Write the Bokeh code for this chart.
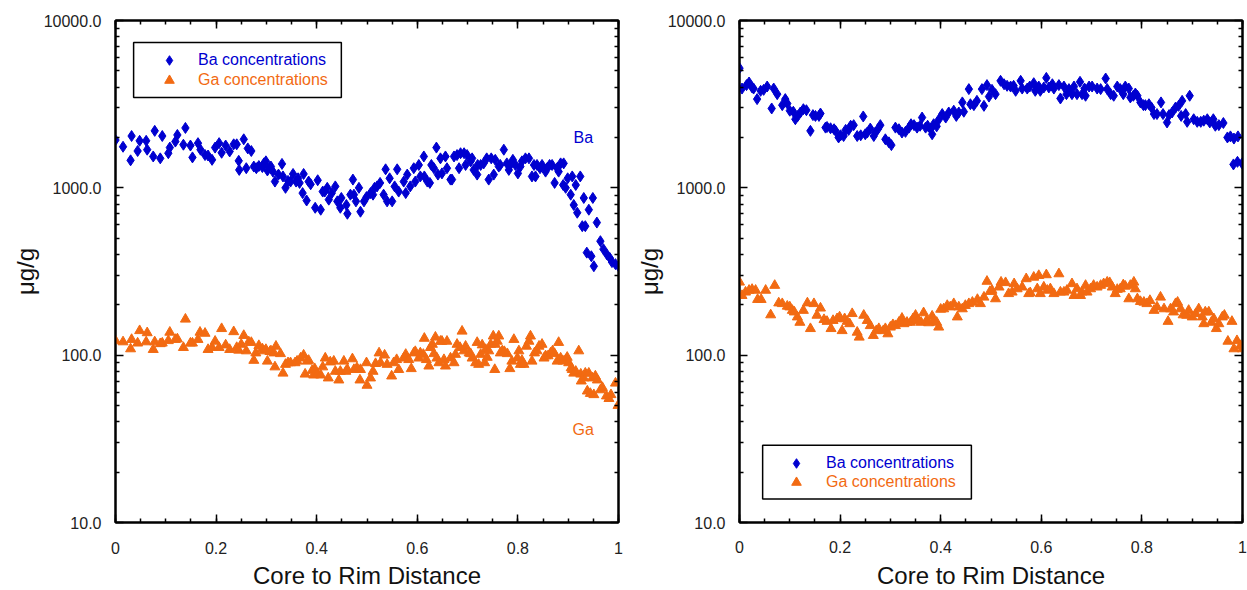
from bokeh.plotting import figure
from bokeh.layouts import row
from bokeh.models import (FixedTicker, LinearAxis, LogAxis, Range1d, Legend,
                          LegendItem, Label, BoxAnnotation, CustomJSTickFormatter)
from bokeh.embed import file_html
from bokeh.resources import INLINE

FONT = "Liberation Sans"
BA_COLOR = "#0000D0"
GA_COLOR = "#F26A12"

# ---------------- axis ticks ----------------
x_ticks = [0, 0.2, 0.4, 0.6, 0.8, 1.0]
x_tick_labels = ["0", "0.2", "0.4", "0.6", "0.8", "1"]
y_ticks = [10, 100, 1000, 10000]
y_tick_labels = ["10.0", "100.0", "1000.0", "10000.0"]
x_label = "Core to Rim Distance"
y_label = "μg/g"
legend_labels = ["Ba concentrations", "Ga concentrations"]

# ---------------- left panel data ----------------
left_ba_x = [0, 0.015, 0.030, 0.032, 0.044, 0.048, 0.061, 0.063, 0.075, 0.078,
             0.089, 0.093, 0.105, 0.108, 0.119, 0.123, 0.135, 0.139, 0.149, 0.153,
             0.164, 0.169, 0.178, 0.184, 0.192, 0.198, 0.206, 0.211, 0.219, 0.227,
             0.235, 0.241, 0.245, 0.246, 0.255, 0.260, 0.263, 0.270, 0.275, 0.280,
             0.285, 0.292, 0.295, 0.299, 0.302, 0.307, 0.309, 0.313, 0.317, 0.324,
             0.331, 0.333, 0.338, 0.343, 0.348, 0.353, 0.359, 0.363, 0.366, 0.372,
             0.374, 0.380, 0.384, 0.388, 0.397, 0.402, 0.408, 0.412, 0.416, 0.421,
             0.424, 0.430, 0.437, 0.441, 0.447, 0.449, 0.459, 0.461, 0.467, 0.472,
             0.474, 0.478, 0.484, 0.487, 0.494, 0.499, 0.507, 0.512, 0.515, 0.520,
             0.526, 0.533, 0.537, 0.540, 0.545, 0.550, 0.555, 0.560, 0.563,
             0.573, 0.577, 0.580, 0.586, 0.593, 0.596, 0.603, 0.606, 0.613, 0.614,
             0.620, 0.625, 0.628, 0.633, 0.638, 0.641, 0.646, 0.649, 0.656, 0.659,
             0.666, 0.669, 0.673, 0.679, 0.683, 0.686, 0.693, 0.696, 0.699, 0.706,
             0.709, 0.712, 0.719, 0.720, 0.726, 0.732, 0.738, 0.742, 0.747, 0.752,
             0.755, 0.762, 0.765, 0.772, 0.778, 0.782, 0.785, 0.790, 0.795, 0.800,
             0.805, 0.808, 0.815, 0.822, 0.828, 0.832, 0.835, 0.838, 0.844, 0.848,
             0.855, 0.858, 0.863, 0.868, 0.873, 0.878, 0.881, 0.885, 0.891, 0.890,
             0.895, 0.899, 0.905, 0.908, 0.911, 0.915, 0.918, 0.924, 0.928, 0.931,
             0.934, 0.937, 0.941, 0.946, 0.949, 0.951, 0.957, 0.964, 0.970, 0.977,
             0.983, 0.987, 0.994, 1.0]
left_ba_y = [1930, 1760, 1460, 2040, 1660, 1910, 1910, 1690, 1540, 2190,
             1500, 2040, 1610, 1740, 1890, 2070, 1810, 2280, 1790, 1520,
             1850, 1690, 1570, 1560, 1470, 1740, 1850, 1620, 1790, 1650,
             1820, 1820, 1450, 1280, 1950, 1310, 1720, 1660, 1340, 1310,
             1350, 1330, 1400, 1440, 1270, 1330, 1340, 1250, 1090, 1200,
             1390, 1170, 1000, 1100, 1090, 1210, 1090, 1140, 1070, 930,
             1210, 840, 1090, 1050, 760, 1110, 740, 950, 950, 1000,
             850, 930, 1020, 830, 760, 870, 790, 700, 910, 1120,
             910, 830, 1000, 720, 830, 880, 930, 910, 1000, 1020,
             1070, 910, 1290, 830, 1140, 830, 1020, 1290, 950,
             1090, 930, 1200, 1020, 1310, 1090, 1370, 1170, 1540, 1170,
             1090, 1070, 1370, 1310, 1740, 1200, 1500, 1220, 1540, 1310,
             1120, 1120, 1540, 1570, 1310, 1610, 1610, 1370, 1570, 1440,
             1500, 1280, 1200, 1370, 1370, 1400, 1500, 1120, 1500, 1200,
             1470, 1340, 1370, 1690, 1400, 1280, 1370, 1470, 1370, 1220,
             1340, 1440, 1500, 1500, 1170, 1370, 1170, 1370, 1310, 1370,
             1250, 1310, 1370, 1370, 1070, 1310, 1250, 1400, 1400, 1040,
             1000, 1140, 910, 1170, 790, 1040, 710, 1170, 590, 870,
             590, 410, 740, 390, 870, 340, 620, 480, 430, 400,
             380, 360, 350, 340]

left_ga_x = [0, 0.015, 0.030, 0.032, 0.044, 0.048, 0.061, 0.063, 0.075, 0.078,
             0.089, 0.093, 0.105, 0.108, 0.119, 0.123, 0.135, 0.139, 0.149, 0.153,
             0.164, 0.168, 0.178, 0.184, 0.192, 0.198, 0.206, 0.211, 0.219, 0.227,
             0.235, 0.241, 0.245, 0.250, 0.255, 0.260, 0.265, 0.270, 0.275, 0.279,
             0.285, 0.292, 0.295, 0.299, 0.302, 0.307, 0.309, 0.315, 0.317, 0.319,
             0.328, 0.333, 0.338, 0.343, 0.348, 0.357, 0.361, 0.368, 0.374, 0.377,
             0.381, 0.384, 0.391, 0.394, 0.396, 0.401, 0.408, 0.412, 0.417, 0.423,
             0.427, 0.434, 0.437, 0.444, 0.447, 0.454, 0.458, 0.461, 0.471, 0.474,
             0.480, 0.486, 0.487, 0.499, 0.500, 0.507, 0.512, 0.517, 0.524, 0.527,
             0.535, 0.540, 0.549, 0.553, 0.559, 0.563,
             0.573, 0.577, 0.583, 0.588, 0.593, 0.596, 0.603, 0.606, 0.612, 0.614,
             0.618, 0.623, 0.626, 0.630, 0.633, 0.636, 0.639, 0.643, 0.646, 0.649,
             0.653, 0.656, 0.659, 0.666, 0.673, 0.676, 0.679, 0.685, 0.689, 0.693,
             0.696, 0.703, 0.706, 0.709, 0.716, 0.719, 0.722, 0.726, 0.729, 0.734,
             0.736, 0.739, 0.742, 0.746, 0.751, 0.754, 0.755, 0.759, 0.762, 0.765,
             0.769, 0.773, 0.779, 0.784, 0.788, 0.792, 0.799, 0.802, 0.805, 0.808,
             0.812, 0.817, 0.822, 0.825, 0.828, 0.833, 0.838, 0.842, 0.848, 0.852,
             0.855, 0.860, 0.865, 0.869, 0.873, 0.878, 0.881, 0.885, 0.890, 0.895,
             0.898, 0.901, 0.906, 0.908, 0.911, 0.915, 0.921, 0.925, 0.926, 0.931,
             0.934, 0.938, 0.941, 0.944, 0.948, 0.951, 0.954, 0.958, 0.964, 0.968,
             0.976, 0.981, 0.985, 0.994, 0.999]
left_ga_y = [122, 120, 109, 124, 118, 140, 120, 136, 108, 120,
             117, 118, 122, 137, 124, 125, 111, 164, 118, 118,
             124, 137, 135, 108, 111, 121, 111, 144, 115, 108,
             138, 111, 107, 116, 131, 106, 120, 119, 93, 103,
             114, 109, 106, 108, 92, 105, 106, 103, 85, 113,
             102, 78, 88, 90, 90, 90, 92, 96, 100, 77,
             92, 93, 81, 76, 83, 77, 76, 85, 96, 73,
             91, 92, 80, 71, 80, 92, 80, 82, 95, 82,
             84, 71, 82, 90, 66, 73, 80, 89, 103, 90,
             100, 88, 75, 90, 94, 82,
             96, 101, 94, 83, 103, 105, 96, 103, 101, 126,
             94, 86, 111, 116, 102, 128, 96, 90, 121, 121,
             94, 86, 121, 96, 90, 101, 116, 111, 139, 106,
             113, 103, 102, 96, 90, 119, 88, 101, 115, 90,
             108, 97, 106, 116, 130, 82, 116, 121, 130, 103,
             106, 105, 102, 83, 92, 124, 96, 106, 88, 93,
             88, 113, 121, 130, 92, 103, 106, 113, 116, 96,
             99, 99, 103, 106, 102, 92, 119, 96, 92, 94,
             97, 90, 84, 82, 78, 80, 106, 77, 70, 73,
             78, 61, 78, 59, 73, 58, 75, 71, 62, 64,
             57, 55, 58, 68, 50]

# ---------------- right panel data ----------------
right_ba_x = [0, 0.005, 0.014, 0.019, 0.025, 0.028, 0.035, 0.042, 0.048, 0.055,
              0.064, 0.068, 0.075, 0.085, 0.091, 0.095, 0.100, 0.107, 0.111, 0.116,
              0.121, 0.127, 0.133, 0.141, 0.146, 0.151, 0.158, 0.161, 0.171, 0.174,
              0.181, 0.188, 0.191, 0.197, 0.201, 0.207, 0.211, 0.217, 0.221, 0.227,
              0.234, 0.241, 0.246, 0.250, 0.254, 0.260, 0.267, 0.270, 0.275, 0.280,
              0.290, 0.297, 0.302, 0.310, 0.317, 0.323, 0.330, 0.337, 0.341, 0.347,
              0.353, 0.359, 0.363, 0.370, 0.374, 0.380, 0.383, 0.386, 0.392, 0.396,
              0.403, 0.410, 0.416, 0.426, 0.431, 0.436, 0.443, 0.446, 0.456, 0.459,
              0.466, 0.472, 0.482, 0.486, 0.492, 0.496, 0.502, 0.509, 0.519, 0.526,
              0.532, 0.539, 0.545, 0.549, 0.559, 0.562, 0.572, 0.577, 0.585, 0.588,
              0.595, 0.598, 0.605, 0.610, 0.615, 0.622, 0.625, 0.635, 0.638, 0.645,
              0.650, 0.655, 0.661, 0.665, 0.671, 0.677, 0.681, 0.686, 0.688, 0.695,
              0.701, 0.711, 0.718, 0.728, 0.731, 0.738, 0.744, 0.751, 0.757, 0.763,
              0.767, 0.774, 0.777, 0.783, 0.787, 0.791, 0.797, 0.803, 0.807, 0.814,
              0.819, 0.824, 0.830, 0.838, 0.842, 0.850, 0.854, 0.860, 0.867, 0.873,
              0.878, 0.880, 0.887, 0.890, 0.895, 0.903, 0.910, 0.917, 0.923, 0.930,
              0.935, 0.942, 0.946, 0.953, 0.962, 0.970, 0.976, 0.983, 0.991, 0.982,
              0.990, 0.999]
right_ba_y = [5190, 3920, 4110, 4260, 3980, 3920, 3390, 3800, 3850, 4030,
              2980, 3920, 3630, 3120, 3390, 3190, 2890, 2850, 2570, 2690,
              2820, 2950, 2910, 2190, 2720, 2690, 2690, 2780, 2290, 2310,
              2270, 2240, 2190, 2000, 2060, 2040, 2220, 2220, 2350, 2370,
              2040, 2060, 2670, 2090, 2140, 2260, 2040, 2140, 2240, 2370,
              1950, 1870, 1800, 2290, 2240, 2140, 2160, 2290, 2400, 2370,
              2290, 2350, 2630, 2290, 2350, 2240, 2090, 2400, 2330, 2550,
              2760, 2630, 2820, 2890, 2690, 2820, 3240, 2850, 3890, 3160,
              3120, 3310, 3890, 3090, 4110, 3510, 3850, 3630, 4360, 4160,
              4070, 4030, 4070, 3800, 4360, 3920, 3920, 4030, 4220, 3800,
              4030, 3800, 3980, 4540, 3980, 4160, 3920, 4110, 3420, 4030,
              3630, 3890, 3630, 4030, 3630, 4300, 3630, 3920, 3550, 4030,
              4030, 3920, 3890, 4500, 3890, 3630, 3550, 4030, 3890, 3630,
              4030, 3920, 3470, 3550, 3660, 3550, 3240, 3120, 3120, 3160,
              3020, 2760, 2760, 3240, 2760, 2460, 2720, 2820, 3020, 3090,
              2690, 3310, 2760, 2480, 3550, 2570, 2480, 2480, 2520, 2570,
              2460, 2570, 2350, 2370, 2440, 2000, 2030, 1970, 2030, 1380,
              1430, 1400]

right_ga_x = [0, 0.005, 0.012, 0.019, 0.025, 0.032, 0.036, 0.043, 0.052, 0.062,
              0.070, 0.078, 0.085, 0.095, 0.100, 0.105, 0.109, 0.115, 0.120, 0.127,
              0.135, 0.141, 0.148, 0.154, 0.161, 0.168, 0.174, 0.182, 0.186, 0.194,
              0.199, 0.204, 0.209, 0.214, 0.219, 0.224, 0.234, 0.238, 0.247, 0.254,
              0.260, 0.266, 0.272, 0.277, 0.286, 0.290, 0.295, 0.300, 0.305, 0.310,
              0.317, 0.323, 0.327, 0.333, 0.340, 0.345, 0.350, 0.355, 0.361, 0.366,
              0.372, 0.376, 0.383, 0.386, 0.392, 0.396,
              0.400, 0.406, 0.413, 0.419, 0.426, 0.433, 0.436, 0.443, 0.449, 0.456,
              0.463, 0.473, 0.479, 0.486, 0.492, 0.498, 0.502, 0.509, 0.516, 0.520,
              0.529, 0.535, 0.542, 0.546, 0.552, 0.562, 0.570, 0.575, 0.578, 0.585,
              0.592, 0.595, 0.598, 0.605, 0.610, 0.612, 0.618, 0.625, 0.635, 0.638,
              0.645, 0.651, 0.661, 0.665, 0.671, 0.678, 0.681, 0.688, 0.691, 0.698,
              0.704, 0.711, 0.718, 0.724, 0.731, 0.736, 0.741, 0.747, 0.751, 0.757,
              0.763, 0.767, 0.774, 0.777, 0.784, 0.787, 0.791, 0.797, 0.804, 0.810,
              0.816, 0.824, 0.830, 0.837, 0.844, 0.852, 0.857, 0.863, 0.867, 0.871,
              0.877, 0.882, 0.889, 0.893, 0.900, 0.907, 0.913, 0.920, 0.923, 0.926,
              0.933, 0.938, 0.943, 0.948, 0.953, 0.960, 0.964, 0.971, 0.979, 0.983,
              0.989, 0.996, 1.0]
right_ga_y = [273, 227, 238, 244, 247, 244, 215, 215, 244, 174,
              261, 205, 203, 196, 194, 185, 181, 169, 157, 185,
              205, 144, 203, 173, 191, 163, 159, 144, 161, 165,
              169, 140, 165, 159, 154, 177, 137, 128, 173, 161,
              150, 131, 140, 144, 140, 144, 134, 147, 152, 150,
              157, 166, 154, 157, 157, 165, 173, 161, 157, 179,
              161, 156, 171, 161, 157, 147,
              188, 189, 198, 194, 203, 169, 194, 189, 198, 203,
              207, 215, 203, 222, 276, 240, 244, 217, 255, 273,
              271, 233, 238, 267, 249, 255, 286, 233, 236, 292,
              249, 299, 233, 255, 302, 244, 249, 233, 306, 238,
              238, 244, 267, 227, 249, 227, 238, 261, 238, 249,
              261, 255, 261, 267, 273, 271, 255, 233, 247, 249,
              263, 258, 217, 261, 273, 249, 217, 209, 207, 203,
              212, 185, 194, 222, 189, 159, 189, 181, 203, 207,
              189, 174, 173, 185, 169, 177, 189, 169, 154, 181,
              181, 157, 165, 144, 154, 169, 173, 121, 159, 109,
              122, 114, 109]

x_minor = [i * 0.05 for i in range(21)]
y_minor = [m * 10 ** e for e in (1, 2, 3) for m in range(2, 10)]


def style_axis(ax, show_labels):
    ax.axis_line_color = "black"
    ax.axis_line_width = 2
    ax.major_tick_in = 8
    ax.major_tick_out = 0
    ax.minor_tick_in = 4
    ax.minor_tick_out = 0
    ax.major_tick_line_color = "black"
    ax.minor_tick_line_color = "black"
    ax.major_tick_line_width = 1.5
    ax.minor_tick_line_width = 1.5
    ax.major_label_text_font = FONT
    ax.major_label_text_font_size = "16px"
    ax.major_label_text_color = "#222222"
    if not show_labels:
        ax.formatter = CustomJSTickFormatter(code="return ''")
        ax.major_label_standoff = 0


def make_panel(ba_x, ba_y, ga_x, ga_y, borders, x_standoffs):
    bl, br, bt, bb = borders
    p = figure(frame_width=503, frame_height=502,
               x_range=Range1d(0, 1), y_range=Range1d(10, 10000),
               y_axis_type="log", output_backend="svg", toolbar_location=None,
               min_border_left=bl, min_border_right=br,
               min_border_top=bt, min_border_bottom=bb,
               background_fill_color="white", border_fill_color="white")
    p.grid.visible = False
    p.outline_line_color = "black"
    p.outline_line_width = 2

    xa = p.xaxis[0]
    xa.ticker = FixedTicker(ticks=x_ticks, minor_ticks=x_minor)
    xa.major_label_overrides = dict(zip(x_ticks, x_tick_labels))
    style_axis(xa, True)
    xa.major_label_standoff = x_standoffs[0]
    xa.axis_label = x_label
    xa.axis_label_text_font = FONT
    xa.axis_label_text_font_size = "24px"
    xa.axis_label_text_font_style = "normal"
    xa.axis_label_text_color = "#111111"
    xa.axis_label_standoff = x_standoffs[1]

    ya = p.yaxis[0]
    ya.ticker = FixedTicker(ticks=y_ticks, minor_ticks=y_minor)
    ya.major_label_overrides = dict(zip(y_ticks, y_tick_labels))
    style_axis(ya, True)
    ya.major_label_standoff = 14
    ya.axis_label = y_label
    ya.axis_label_text_font = FONT
    ya.axis_label_text_font_size = "24px"
    ya.axis_label_text_font_style = "normal"
    ya.axis_label_text_color = "#111111"
    ya.axis_label_standoff = 2

    top = LinearAxis(ticker=FixedTicker(ticks=x_ticks, minor_ticks=x_minor))
    style_axis(top, False)
    p.add_layout(top, "above")
    right = LogAxis(ticker=FixedTicker(ticks=y_ticks, minor_ticks=y_minor))
    style_axis(right, False)
    p.add_layout(right, "right")

    r_ba = p.scatter(ba_x, ba_y, marker="diamond", size=11,
                     fill_color=BA_COLOR, line_color=BA_COLOR)
    r_ga = p.scatter(ga_x, ga_y, marker="triangle", size=10,
                     fill_color=GA_COLOR, line_color=GA_COLOR)
    return p, r_ba, r_ga


def add_legends(p, r_ba, r_ga, x0, y_ba, y_ga, standoff, box):
    for r, lab, col, yy in ((r_ba, legend_labels[0], BA_COLOR, y_ba),
                            (r_ga, legend_labels[1], GA_COLOR, y_ga)):
        leg = Legend(items=[LegendItem(label=lab, renderers=[r])],
                     location=(x0, yy), border_line_alpha=0,
                     background_fill_alpha=0, padding=2, margin=0, spacing=0,
                     glyph_width=24, glyph_height=24, label_height=18,
                     label_standoff=standoff, label_text_font=FONT,
                     label_text_font_size="16px", label_text_color=col)
        p.add_layout(leg)
    p.add_layout(BoxAnnotation(left=box[0], right=box[1], bottom=box[2], top=box[3],
                               fill_alpha=0, line_color="black", line_alpha=1.0,
                               line_width=1.5))


# left panel
p1, b1, g1 = make_panel(left_ba_x, left_ba_y, left_ga_x, left_ga_y,
                        (115, 12, 17, 67), (19, 5))
add_legends(p1, b1, g1, 40, 448, 428, 17, (0.036, 0.449, 3470, 7390))
p1.add_layout(Label(x=0.93, y=2000, text="Ba", text_color=BA_COLOR, text_font=FONT,
                    text_font_size="16px", text_align="center", text_baseline="middle"))
p1.add_layout(Label(x=0.93, y=36, text="Ga", text_color=GA_COLOR, text_font=FONT,
                    text_font_size="16px", text_align="center", text_baseline="middle"))

# right panel
p2, b2, g2 = make_panel(right_ba_x, right_ba_y, right_ga_x, right_ga_y,
                        (109, 5, 20, 64), (18, 6))
add_legends(p2, b2, g2, 43, 45, 26, 18, (0.046, 0.461, 13.8, 29.0))

layout = row(p1, p2)
open("out.html", "w").write(file_html(layout, INLINE))
